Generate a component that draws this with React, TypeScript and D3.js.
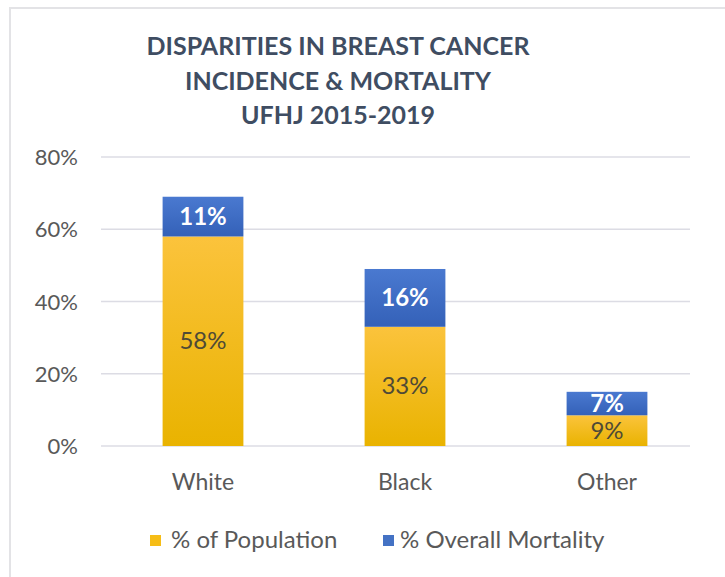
import React from "react";
import * as d3 from "d3";

const categories = ["White", "Black", "Other"];
const population = [58, 33, 8.5];
const mortality = [11, 16, 6.5];
const yTicks = [0, 20, 40, 60, 80];
const titleLines = ["DISPARITIES IN BREAST CANCER", "INCIDENCE & MORTALITY", "UFHJ 2015-2019"];
const seriesNames = ["% of Population", "% Overall Mortality"];

const FONT = "Lato, 'Open Sans', sans-serif";

export default function App() {
  const W = 725, H = 577;
  const x = d3.scaleBand().domain(categories).range([102, 708]).paddingInner(0.6).paddingOuter(0.3);
  const y = d3.scaleLinear().domain([0, 80]).range([446, 157]);
  const bw = x.bandwidth();
  return (
    <svg width={W} height={H} style={{ position: "absolute", left: 0, top: 0, background: "#fff" }}>
      <defs>
        <linearGradient id="gy" x1="0" y1="0" x2="0" y2="1">
          <stop offset="0" stopColor="#fbc33c" />
          <stop offset="1" stopColor="#e9b300" />
        </linearGradient>
        <linearGradient id="gb" x1="0" y1="0" x2="0" y2="1">
          <stop offset="0" stopColor="#4a79d0" />
          <stop offset="1" stopColor="#3461b8" />
        </linearGradient>
      </defs>
      <rect x={10} y={8} width={W} height={H} fill="#fff" stroke="#e3e3e6" strokeWidth={2} />
      {titleLines.map((t, i) => (
        <text key={t} x={338} y={55 + i * 34.5} textAnchor="middle" fontFamily={FONT} fontWeight={700} fontSize={25} fill="#3f4d62">{t}</text>
      ))}
      {yTicks.map(t => (
        <g key={t}>
          <line x1={101} x2={690} y1={y(t)} y2={y(t)} stroke="#dcdce4" strokeWidth={1.5} />
          <text x={78} y={y(t) + 8} textAnchor="end" fontFamily={FONT} fontSize={22} fill="#595959">{t}%</text>
        </g>
      ))}
      {categories.map((c, i) => {
        const x0 = x(c)!;
        const p = population[i], m = mortality[i];
        return (
          <g key={c}>
            <rect x={x0} y={y(p)} width={bw} height={y(0) - y(p)} fill="url(#gy)" />
            <rect x={x0} y={y(p + m)} width={bw} height={y(p) - y(p + m)} fill="url(#gb)" />
            <text x={x0 + bw / 2} y={(y(0) + y(p)) / 2 + 8} textAnchor="middle" fontFamily={FONT} fontSize={24} fill="#4f4a36">{Math.round(p)}%</text>
            <text x={x0 + bw / 2} y={(y(p) + y(p + m)) / 2 + 8} textAnchor="middle" fontFamily={FONT} fontWeight={700} fontSize={24} fill="#fff">{Math.round(m)}%</text>
            <text x={x0 + bw / 2} y={490} textAnchor="middle" fontFamily={FONT} fontSize={23} fill="#595959">{c}</text>
          </g>
        );
      })}
      <g>
        <rect x={150} y={535} width={11} height={11} fill="#f6bd16" />
        <text x={171} y={548} fontFamily={FONT} fontSize={24} fill="#595959">{seriesNames[0]}</text>
        <rect x={383} y={535} width={11} height={11} fill="#4472c4" />
        <text x={400} y={548} fontFamily={FONT} fontSize={24} fill="#595959">{seriesNames[1]}</text>
      </g>
    </svg>
  );
}
